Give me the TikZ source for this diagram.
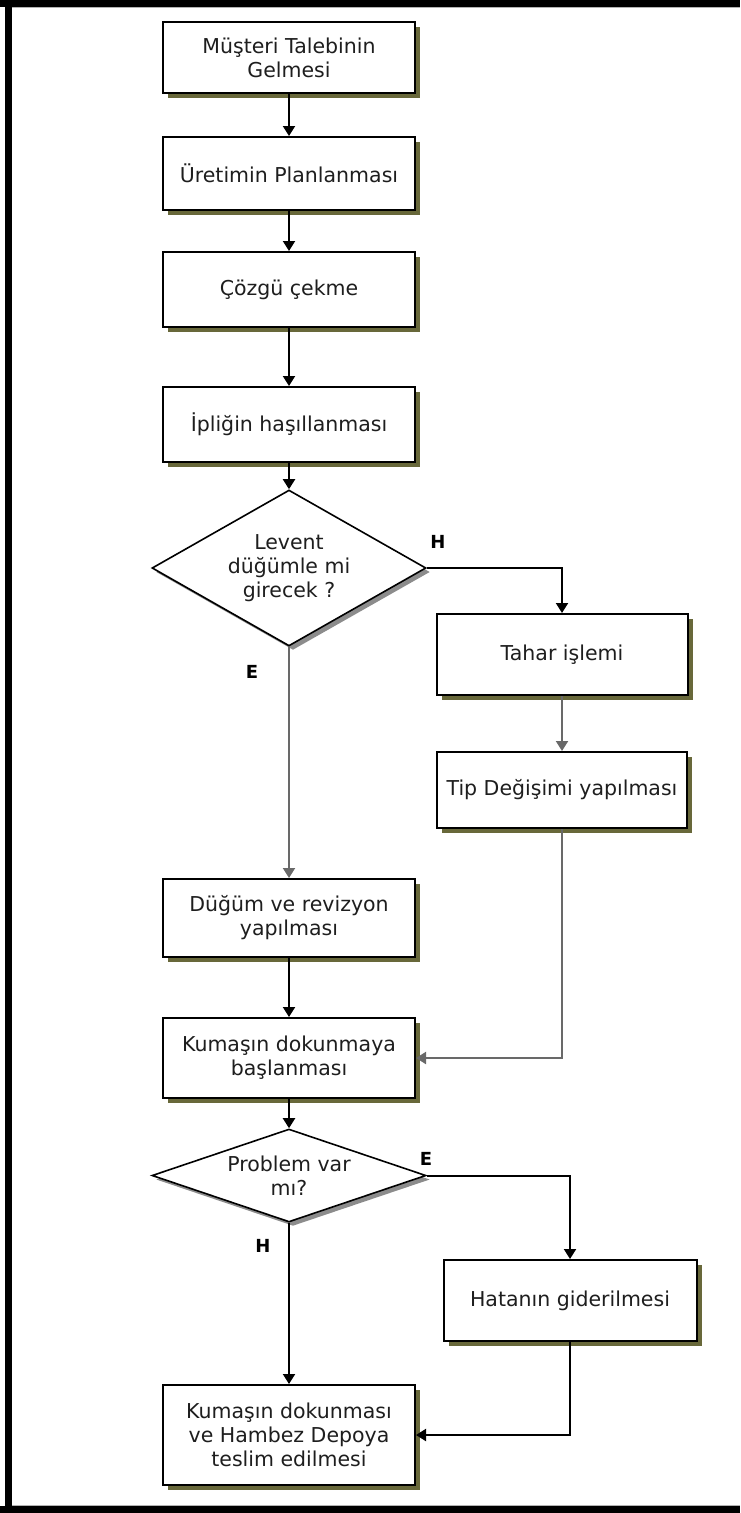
\documentclass[tikz,border=0pt]{standalone}
\usepackage{fontspec}
\setmainfont{DejaVu Sans}
\usetikzlibrary{shapes.geometric, arrows.meta, shadows}

\definecolor{boxshade}{RGB}{104,104,58}
\definecolor{diashade}{RGB}{140,140,140}
\definecolor{linegrey}{RGB}{105,105,105}
\definecolor{inktext}{RGB}{30,30,30}

\begin{document}
\begin{tikzpicture}[x=1pt, y=-1pt,
  txt/.style={font=\fontsize{20.5}{24}\selectfont, text=inktext, align=center},
  stepbox/.style={txt, rectangle, draw=black, line width=2pt, fill=white,
    inner sep=0pt, minimum width=252pt,
    drop shadow={shadow xshift=5pt, shadow yshift=-5pt, fill=boxshade, opacity=1}},
  decision/.style={diamond, draw=black, line width=1.6pt, fill=white,
    inner sep=0pt, minimum width=274pt,
    drop shadow={shadow xshift=4pt, shadow yshift=-4pt, fill=diashade, opacity=1}},
  branch/.style={font=\fontsize{18}{20}\selectfont\bfseries, text=black},
  link/.style={line width=2pt, draw=black, -{Triangle[length=10pt,width=12pt]}},
  greylink/.style={link, draw=linegrey}
]
\useasboundingbox (0,0) rectangle (740,1513);

% page frame
\fill[black] (0,0) rectangle (740,7);
\fill[black] (5,0) rectangle (12,1513);
\fill[black] (0,1506) rectangle (740,1513);
\draw[gray!60, line width=0.8pt] (12,7.6) -- (740,7.6);
\draw[gray!60, line width=0.8pt] (12,1505.4) -- (740,1505.4);

% main column
\node[stepbox, minimum height=71pt] (talep) at (289,57.5) {Müşteri Talebinin\\Gelmesi};
\node[stepbox, minimum height=73pt] (plan) at (289,173.5) {Üretimin Planlanması};
\node[stepbox, minimum height=75pt] (cozgu) at (289,289.5) {Çözgü çekme};
\node[stepbox, minimum height=75pt] (hasil) at (289,424.5) {İpliğin haşıllanması};

\node[decision, minimum height=156pt] (levent) at (289,568) {};
\node[txt] at (levent) {Levent\\düğümle mi\\girecek ?};

\node[stepbox, minimum width=251pt, minimum height=81pt] (tahar) at (562,654.5) {Tahar işlemi};
\node[stepbox, minimum width=250pt, minimum height=76pt] (tip) at (562,790) {Tip Değişimi yapılması};

\node[stepbox, minimum height=78pt] (dugum) at (289,918) {Düğüm ve revizyon\\yapılması};
\node[stepbox, minimum height=80pt] (dokuma) at (289,1058) {Kumaşın dokunmaya\\başlanması};

\node[decision, minimum height=93pt] (problem) at (289,1175.5) {};
\node[txt] at (problem) {Problem var\\mı?};

\node[stepbox, minimum width=253pt, minimum height=81pt] (hata) at (570,1300.5) {Hatanın giderilmesi};
\node[stepbox, minimum height=100pt] (teslim) at (289,1435) {Kumaşın dokunması\\ve Hambez Depoya\\teslim edilmesi};

% connectors
\draw[link] (talep) -- (plan);
\draw[link] (plan) -- (cozgu);
\draw[link] (cozgu) -- (hasil);
\draw[link] (hasil) -- (levent);

\draw[link] (levent.east) -| (tahar.north);
\draw[greylink] (tahar) -- (tip);
\draw[greylink] (tip.south) |- (dokuma.east);

\draw[greylink] (levent.south) -- (dugum.north);
\draw[link] (dugum) -- (dokuma);
\draw[link] (dokuma) -- (problem.north);

\draw[link] (problem.east) -| (hata.north);
\draw[link] (hata.south) |- (teslim.east);
\draw[link] (problem.south) -- (teslim.north);

% branch labels
\node[branch] (lh) at (438,542) {H};
\node[branch] (le) at (252,672) {E};
\node[branch] (pe) at (426,1159) {E};
\node[branch] (ph) at (263,1246) {H};
\end{tikzpicture}
\end{document}
